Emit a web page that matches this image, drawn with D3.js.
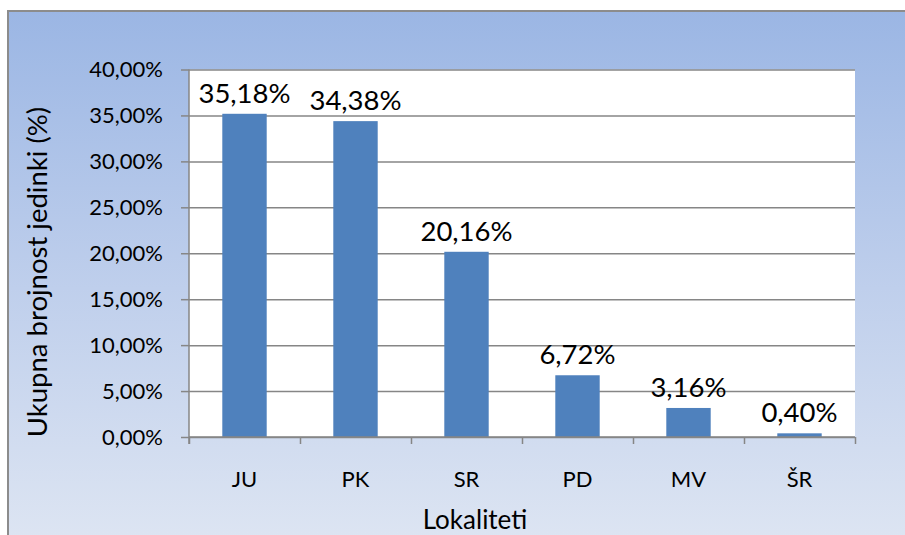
<!DOCTYPE html>
<html>
<head>
<meta charset="utf-8">
<script src="https://cdn.jsdelivr.net/npm/d3@7"></script>
<style>
  html, body { margin: 0; padding: 0; background: #ffffff; }
  svg { display: block; }
  text { font-family: Lato, "Open Sans", sans-serif; fill: #000; }
</style>
</head>
<body>
<svg id="chart" width="905" height="535"></svg>
<script>
const categories = ["JU", "PK", "SR", "PD", "MV", "ŠR"];
const values = [35.18, 34.38, 20.16, 6.72, 3.16, 0.40];
const valueLabels = ["35,18%", "34,38%", "20,16%", "6,72%", "3,16%", "0,40%"];
const yTicks = [0, 5, 10, 15, 20, 25, 30, 35, 40];
const yTickLabels = ["0,00%", "5,00%", "10,00%", "15,00%", "20,00%", "25,00%", "30,00%", "35,00%", "40,00%"];
const xTitle = "Lokaliteti";
const yTitle = "Ukupna brojnost jedinki (%)";

const svg = d3.select("#chart");
const W = 905, H = 535;
const plot = { left: 189, right: 855, top: 69.5, bottom: 437 };

// background gradient
const defs = svg.append("defs");
const grad = defs.append("linearGradient").attr("id", "bg").attr("x1", 0).attr("y1", 0).attr("x2", 0).attr("y2", 1);
grad.append("stop").attr("offset", "0%").attr("stop-color", "#9bb6e4");
grad.append("stop").attr("offset", "50%").attr("stop-color", "#bfcfec");
grad.append("stop").attr("offset", "100%").attr("stop-color", "#e0e7f3");

svg.append("rect").attr("x", 8).attr("y", 11).attr("width", W + 20).attr("height", H + 20)
  .attr("fill", "url(#bg)").attr("stroke", "#8c8c8c").attr("stroke-width", 2);

// plot area
svg.append("rect").attr("x", plot.left).attr("y", plot.top)
  .attr("width", plot.right - plot.left).attr("height", plot.bottom - plot.top)
  .attr("fill", "#ffffff");

const x = d3.scaleBand().domain(categories).range([plot.left, plot.right]).paddingInner(0.6).paddingOuter(0.3);
const xb = d3.scaleBand().domain(categories).range([plot.left, plot.right]);
const y = d3.scaleLinear().domain([0, 40]).range([plot.bottom, plot.top]);

// gridlines
const grid = svg.append("g").attr("transform", `translate(${plot.left},0)`)
  .call(d3.axisLeft(y).tickValues(yTicks).tickSize(-(plot.right - plot.left)).tickFormat(""));
grid.select(".domain").remove();
grid.selectAll("line").attr("stroke", "#868686").attr("stroke-width", 1.5);

// bars
svg.append("g").selectAll("rect").data(values).join("rect")
  .attr("x", (d, i) => x(categories[i]))
  .attr("width", x.bandwidth())
  .attr("y", d => y(d))
  .attr("height", d => y(0) - y(d))
  .attr("fill", "#4f81bd");

// value labels
svg.append("g").selectAll("text").data(values).join("text")
  .attr("x", (d, i) => x(categories[i]) + x.bandwidth() / 2)
  .attr("y", d => y(d) - 11)
  .attr("text-anchor", "middle")
  .style("font-size", "27.5px")
  .text((d, i) => valueLabels[i]);

// y axis
const yAxis = svg.append("g").attr("transform", `translate(${plot.left},0)`)
  .call(d3.axisLeft(y).tickValues(yTicks).tickSize(8).tickPadding(18)
    .tickFormat((d, i) => yTickLabels[yTicks.indexOf(d)]));
yAxis.select(".domain").remove();
yAxis.selectAll("line").attr("stroke", "#868686").attr("stroke-width", 1.5);
yAxis.selectAll("text").style("font-size", "22px").style("font-family", "Lato, sans-serif").attr("fill", "#000");
svg.append("line").attr("x1", plot.left).attr("x2", plot.left).attr("y1", plot.top).attr("y2", plot.bottom + 7)
  .attr("stroke", "#868686").attr("stroke-width", 1.5);

// x axis ticks at band boundaries
const boundaries = categories.map(c => xb(c)).concat([plot.right]);
const xTickAxis = svg.append("g").attr("transform", `translate(0,${plot.bottom})`)
  .call(d3.axisBottom(d3.scaleIdentity()).tickValues(boundaries).tickSize(7).tickFormat(""));
xTickAxis.select(".domain").remove();
xTickAxis.selectAll("line").attr("stroke", "#868686").attr("stroke-width", 1.5);
svg.append("line").attr("x1", plot.left).attr("x2", plot.right).attr("y1", plot.bottom).attr("y2", plot.bottom)
  .attr("stroke", "#868686").attr("stroke-width", 1.5);

// x labels
const xAxis = svg.append("g").attr("transform", `translate(0,${plot.bottom})`)
  .call(d3.axisBottom(xb).tickSize(0));
xAxis.select(".domain").remove();
xAxis.selectAll("text").attr("y", 50).attr("dy", null)
  .style("font-size", "22px").style("font-family", "Lato, sans-serif").attr("fill", "#000");

// titles
svg.append("text").attr("x", 475).attr("y", 529).attr("text-anchor", "middle")
  .style("font-size", "26px").text(xTitle);
svg.append("text").attr("transform", "translate(47,272) rotate(-90)").attr("text-anchor", "middle")
  .style("font-size", "27.5px").text(yTitle);
</script>
</body>
</html>
